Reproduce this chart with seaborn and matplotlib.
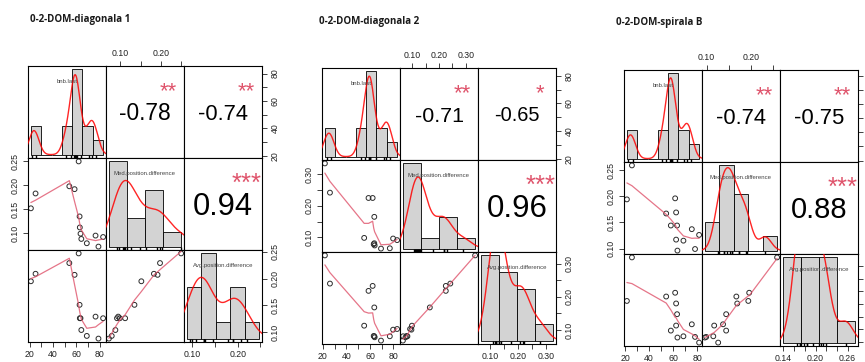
import numpy as np
import matplotlib
matplotlib.use("Agg")
import matplotlib.pyplot as plt
import seaborn as sns

# values
titles = ["0-2-DOM-diagonala 1", "0-2-DOM-diagonala 2", "0-2-DOM-spirala B"]
var_names = ["bnb.last", "Med.position.difference", "Avg.position.difference"]

p1_bnb = [21, 25, 54, 58.5, 62, 62.8, 63, 63.6, 64.3, 69, 76.5, 79, 83]
p1_med = [0.152, 0.183, 0.198, 0.192, 0.250, 0.135, 0.112, 0.099, 0.088, 0.079, 0.095, 0.072, 0.092]
p1_avg = [0.195, 0.209, 0.229, 0.207, 0.247, 0.151, 0.126, 0.126, 0.104, 0.093, 0.129, 0.088, 0.126]
p1_r = [-0.78, -0.74, 0.94]
p1_stars = ["**", "**", "***"]
p1_binw = [10, 0.05, 0.04]

p2_bnb = [21.7, 26, 55.1, 58.8, 62.3, 63.7, 63.7, 63.2, 64, 69.4, 76.9, 79.7, 83.1]
p2_med = [0.335, 0.242, 0.098, 0.225, 0.225, 0.165, 0.081, 0.078, 0.074, 0.064, 0.065, 0.096, 0.091]
p2_avg = [0.325, 0.240, 0.113, 0.218, 0.233, 0.168, 0.081, 0.082, 0.078, 0.068, 0.081, 0.101, 0.103]
p2_r = [-0.71, -0.65, 0.96]
p2_stars = ["**", "*", "***"]
p2_binw = [10, 0.1, 0.1]

p3_bnb = [21.4, 25.6, 54.2, 58.1, 61.7, 62.5, 62.5, 63.3, 63.6, 68.6, 75.6, 78.3, 81.7]
p3_med = [0.194, 0.259, 0.167, 0.144, 0.196, 0.169, 0.117, 0.144, 0.096, 0.115, 0.137, 0.099, 0.126]
p3_avg = [0.205, 0.274, 0.212, 0.158, 0.218, 0.201, 0.166, 0.184, 0.147, 0.149, 0.168, 0.148, 0.139]
p3_r = [-0.74, -0.75, 0.88]
p3_stars = ["**", "**", "***"]
p3_binw = [10, 0.05, 0.05]

panels = [
    (titles[0], [p1_bnb, p1_med, p1_avg], p1_binw, p1_r, p1_stars),
    (titles[1], [p2_bnb, p2_med, p2_avg], p2_binw, p2_r, p2_stars),
    (titles[2], [p3_bnb, p3_med, p3_avg], p3_binw, p3_r, p3_stars),
]

# layout in pixels
W, H = 865, 362
CW, RH = 78, 92
origins = [(28, 66), (322, 68), (624, 70)]
title_pos = [(30, 19.5), (319, 21.5), (616, 22)]
STAR_COL = "#DF536B"


def pretty(lo, hi, n=5, h=0.8, h5=1.7):
    # R's axis tick rule
    cell = (hi - lo) / n
    base = 10 ** np.floor(np.log10(cell))
    unit = base
    if 2 * base - cell < h * (cell - unit):
        unit = 2 * base
        if 5 * base - cell < h5 * (cell - unit):
            unit = 5 * base
            if 10 * base - cell < h * (cell - unit):
                unit = 10 * base
    k0 = np.ceil(lo / unit - 1e-7)
    k1 = np.floor(hi / unit + 1e-7)
    return np.round(np.arange(k0, k1 + 1) * unit, 10), unit


def tick_labels(ticks, unit, px_per_unit, horizontal):
    # drop labels that would overlap, like R's axis()
    dec = max(0, int(np.ceil(-np.log10(unit) - 1e-9)))
    out, last = [], None
    for t in ticks:
        s = f"{t:.{dec}f}"
        need = 4.5 * len(s) + 5.5 if horizontal else 3 * len(s) + 9
        p = t * px_per_unit
        if last is None or abs(p - last) >= need:
            out.append(s)
            last = p
        else:
            out.append("")
    return out


def lowess(x, y, f=2 / 3, iters=3):
    o = np.argsort(x, kind="mergesort")
    x = np.asarray(x, float)[o]
    y = np.asarray(y, float)[o]
    n = len(x)
    ns = max(min(int(f * n + 1e-7), n), 2)
    rw = np.ones(n)
    fit = np.zeros(n)
    for it in range(iters + 1):
        for i in range(n):
            d = np.abs(x - x[i])
            hh = np.sort(d)[ns - 1]
            if hh > 0:
                r = d / hh
                w = np.where(r <= 0.999, (1 - np.clip(r, 0, 1) ** 3) ** 3, 0.0)
                w[r <= 0.001] = 1.0
            else:
                w = (d == 0).astype(float)
            w = w * rw
            if w.sum() <= 0:
                fit[i] = y[i]
                continue
            w = w / w.sum()
            xm = (w * x).sum()
            c = (w * (x - xm) ** 2).sum()
            if np.sqrt(c) > 0.001 * (x[-1] - x[0]):
                b = (w * (x - xm) * y).sum() / c
                fit[i] = (w * y).sum() + b * (x[i] - xm)
            else:
                fit[i] = (w * y).sum()
        if it == iters:
            break
        res = y - fit
        cmad = 6 * np.median(np.abs(res))
        if cmad < 1e-7 * np.mean(np.abs(y)):
            break
        u = np.abs(res) / cmad
        rw = np.where(u < 1, (1 - u ** 2) ** 2, 0.0)
    return x, fit


def nrd0(x):
    s = np.std(x, ddof=1)
    q75, q25 = np.percentile(x, [75, 25])
    lo = min(s, (q75 - q25) / 1.34)
    if lo <= 0:
        lo = s
    return 0.9 * lo * len(x) ** -0.2


sns.set_style("white")
plt.rcParams["font.family"] = ["Liberation Sans", "DejaVu Sans"]

fig = plt.figure(figsize=(W / 100, H / 100), dpi=100)
renderer = fig.canvas.get_renderer()


def text_width(s, size):
    t = fig.text(0, 0, s, fontsize=size)
    w = t.get_window_extent(renderer).width
    t.remove()
    return w


def add_cell(x0, y0, i, j):
    ax = fig.add_axes([(x0 + j * CW) / W, 1 - (y0 + (i + 1) * RH) / H, CW / W, RH / H])
    ax.set_xticks([])
    ax.set_yticks([])
    for s in ax.spines.values():
        s.set_color("black")
        s.set_linewidth(0.8)
    return ax


def put_ticks(ax, side, lo, hi, show_labels=True):
    ticks, unit = pretty(lo, hi)
    horizontal = side in ("top", "bottom")
    span = CW if horizontal else RH
    labels = tick_labels(ticks, unit, span / (hi - lo), horizontal)
    if not show_labels:
        labels = [""] * len(labels)
    major = [t for t, l in zip(ticks, labels) if l]
    major_lbl = [l for l in labels if l]
    minor = [t for t, l in zip(ticks, labels) if not l]
    kw = dict(which="both", direction="out", length=3.5, width=0.6, pad=2.5,
              labelsize=6.3, color="#222222", labelcolor="#222222")
    if horizontal:
        ax.set_xticks(major, major_lbl)
        ax.set_xticks(minor, minor=True)
        ax.xaxis.set_ticks_position(side)
        ax.tick_params(axis="x", **kw)
    else:
        ax.set_yticks(major, major_lbl)
        ax.set_yticks(minor, minor=True)
        ax.yaxis.set_ticks_position(side)
        ax.tick_params(axis="y", labelrotation=90, **kw)
        for t in ax.get_yticklabels():
            t.set_va("center")


upper_index = {(0, 1): 0, (0, 2): 1, (1, 2): 2}

for (title, cols, binw, rvals, stars), (x0, y0), (tx, ty) in zip(panels, origins, title_pos):
    fig.text(tx / W, 1 - ty / H, title, ha="left", va="center", fontsize=7,
             fontweight="bold", family=["Open Sans", "DejaVu Sans"], color="#1a1a1a")
    data = [np.asarray(c, float) for c in cols]
    ranges = []
    for v in data:
        pad = 0.04 * (v.max() - v.min())
        ranges.append((v.min() - pad, v.max() + pad))

    nv = len(data)
    # right-hand labels of the last panel fall past the picture edge
    right_labels = x0 + nv * CW + 16 < W
    for i in range(nv):
        for j in range(nv):
            ax = add_cell(x0, y0, i, j)
            ax.set_xlim(ranges[j])
            ax.set_ylim(ranges[i])

            if i > j:
                sns.scatterplot(x=data[j], y=data[i], ax=ax, marker="o", s=12,
                                facecolor="none", edgecolor="#2b2b2b", linewidth=0.7,
                                legend=False)
                lx, ly = lowess(data[j], data[i])
                sns.lineplot(x=lx, y=ly, ax=ax, sort=False, estimator=None,
                             color=STAR_COL, lw=0.9, alpha=0.8)
            elif i < j:
                k = upper_index[(i, j)]
                r = rvals[k]
                txt = f"{r:.2f}"
                base_pt = 10 * 0.8 * CW / text_width(txt, 10)
                num_pt = base_pt * (abs(r) + 0.3) / 1.3
                num_px = num_pt * 100 / 72
                ax.text(0.5, 0.5 - 0.716 * num_px / 2 / RH, txt, transform=ax.transAxes,
                        ha="center", va="baseline", fontsize=num_pt, color="black",
                        clip_on=True)
                star_pt = 0.8 * base_pt
                star_px = star_pt * 100 / 72
                ax.text(0.8, 0.80 - 0.575 * star_px / RH, stars[k], transform=ax.transAxes,
                        ha="center", va="baseline", fontsize=star_pt, color=STAR_COL,
                        clip_on=True)
            else:
                v = data[i]
                w = binw[i]
                k0 = np.floor(v.min() / w + 1e-9)
                k1 = np.ceil(v.max() / w - 1e-9)
                edges = np.round(np.arange(k0, k1 + 1) * w, 10)
                dens, _ = np.histogram(v, bins=edges, density=True)
                hax = ax.inset_axes([0, 0, 1, 1])
                sns.histplot(x=v, bins=edges, stat="density", ax=hax, color="#D3D3D3",
                             edgecolor="black", linewidth=0.6, alpha=1)
                sns.kdeplot(x=v, ax=hax, bw_method=nrd0(v) / np.std(v, ddof=1),
                            color="red", lw=1.0, alpha=0.85)
                sns.rugplot(x=v, ax=hax, height=0.03, color="black", lw=0.5)
                xp = 0.04 * (edges[-1] - edges[0])
                hax.set_xlim(edges[0] - xp, edges[-1] + xp)
                hax.set_ylim(-0.04 * dens.max(), 1.04 * dens.max())
                hax.set_xlabel("")
                hax.set_ylabel("")
                hax.set_xticks([])
                hax.set_yticks([])
                hax.set_axis_off()
                hax.text(0.5, 0.83, var_names[i], transform=hax.transAxes, ha="center",
                         va="center", fontsize=4.3, color="#444444", zorder=6)

            ax.set_xlabel("")
            ax.set_ylabel("")
            if i == 0 and j % 2 == 1:
                put_ticks(ax, "top", *ranges[j])
            if i == nv - 1 and j % 2 == 0:
                put_ticks(ax, "bottom", *ranges[j])
            if j == 0 and i % 2 == 1:
                put_ticks(ax, "left", *ranges[i])
            if j == nv - 1 and i % 2 == 0:
                put_ticks(ax, "right", *ranges[i], show_labels=right_labels)

fig.savefig("out.png", dpi=100)
